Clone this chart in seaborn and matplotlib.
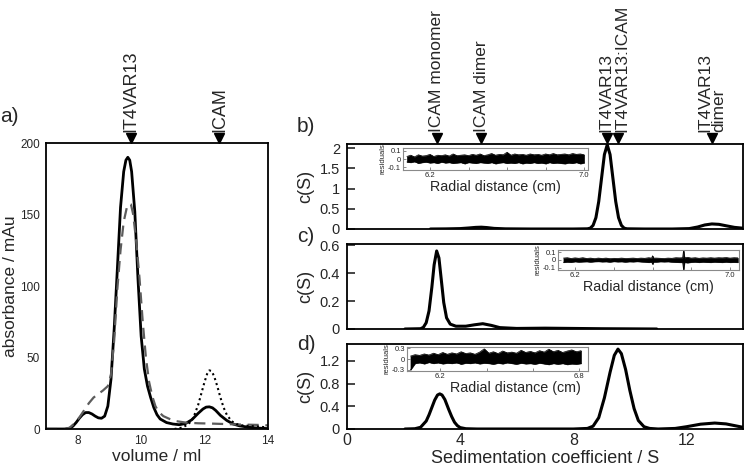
import matplotlib
matplotlib.use("Agg")
import matplotlib.pyplot as plt
from matplotlib import transforms
import pandas as pd
import seaborn as sns

sns.set_style("ticks")
plt.rcParams["font.family"] = ["Liberation Sans", "DejaVu Sans"]

# ---------------- data: panel a (size-exclusion chromatography) ----------------
sec_solid_x = [7.0, 7.6, 7.75, 7.85, 7.95, 8.05, 8.15, 8.25, 8.35, 8.45, 8.55, 8.65, 8.75, 8.85, 8.95,
               9.05, 9.15, 9.25, 9.35, 9.45, 9.52, 9.58, 9.64, 9.7, 9.8, 9.9, 10.0, 10.1, 10.2, 10.3,
               10.4, 10.5, 10.6, 10.8, 11.0, 11.2, 11.4, 11.6, 11.8, 11.95, 12.05, 12.15, 12.25, 12.35,
               12.5, 12.7, 12.9, 13.1, 13.4, 13.7, 14.0]
sec_solid_y = [0, 0, 0.5, 2, 4.5, 7.5, 10, 11.5, 11.5, 10.5, 9, 7.8, 7.5, 9, 16,
               35, 70, 112, 155, 180, 188, 190, 188, 180, 152, 105, 65, 42, 30, 22,
               15, 10, 7, 4.5, 3.5, 3, 3.8, 6.5, 11, 14, 15.3, 15.5, 14.8, 13,
               9.5, 6, 3.5, 2.2, 1.2, 0.6, 0.3]
sec_dash_x = [7.0, 7.6, 7.75, 7.9, 8.05, 8.2, 8.35, 8.5, 8.65, 8.8, 8.95, 9.05, 9.15, 9.25, 9.35,
              9.45, 9.55, 9.62, 9.68, 9.75, 9.85, 9.95, 10.05, 10.15, 10.25, 10.35, 10.45, 10.55,
              10.7, 10.9, 11.1, 11.4, 11.8, 12.2, 12.6, 13.0, 13.4, 13.8, 14.0]
sec_dash_y = [0, 0, 1, 4, 8, 13, 18, 22, 24.5, 27, 30, 38, 62, 98, 125,
              145, 155, 157.5, 157, 150, 130, 105, 75, 50, 33, 23, 16, 12,
              9, 7, 5.5, 4.5, 4, 3.8, 3.5, 3.2, 3, 2.8, 2.5]
sec_dot_x = [11.05, 11.3, 11.5, 11.65, 11.8, 11.9, 12.0, 12.08, 12.15, 12.22, 12.3, 12.4, 12.5,
             12.6, 12.7, 12.85, 13.0, 13.2, 13.5, 13.8, 14.0]
sec_dot_y = [0, 1, 3.5, 8, 17, 25, 33, 38.5, 41, 40.5, 37, 30, 22,
             15, 10, 5.5, 3.5, 2.5, 2, 1.5, 1]
sec_marks_x = [9.67, 12.47]
sec_marks_lab = ["IT4VAR13", "ICAM"]

# ---------------- data: panels b-d (c(S) distributions) ----------------
b_s = [2.95, 3.5, 4.0, 4.3, 4.55, 4.75, 4.95, 5.2, 5.6, 6.5, 8.0, 8.5, 8.6, 8.7, 8.8, 8.9, 9.0, 9.1,
       9.2, 9.3, 9.4, 9.5, 9.6, 9.7, 9.8, 9.9, 10.5, 11.5, 12.1, 12.4, 12.65, 12.9, 13.15, 13.4, 13.7, 14.0]
b_c = [0, 0.003, 0.01, 0.025, 0.04, 0.045, 0.035, 0.015, 0.004, 0, 0, 0.005, 0.02, 0.09, 0.28, 0.68, 1.26, 1.84,
       2.08, 1.84, 1.26, 0.68, 0.28, 0.09, 0.02, 0.005, 0, 0, 0.01, 0.05, 0.1, 0.125, 0.115, 0.08, 0.04, 0.02]
c_s = [2.05, 2.6, 2.7, 2.8, 2.9, 3.0, 3.08, 3.17, 3.25, 3.33, 3.42, 3.52, 3.65, 3.85, 4.2, 4.5, 4.8,
       5.1, 5.4, 6.0, 7.0, 8.0, 9.0, 10.0, 10.95]
c_c = [0, 0.002, 0.012, 0.045, 0.13, 0.3, 0.46, 0.56, 0.51, 0.36, 0.19, 0.08, 0.035, 0.02, 0.02, 0.03, 0.038,
       0.026, 0.01, 0.004, 0.006, 0.004, 0.002, 0.001, 0]
d_s = [2.05, 2.4, 2.6, 2.8, 2.9, 3.0, 3.1, 3.2, 3.28, 3.36, 3.46, 3.6, 3.7, 3.8, 3.9, 4.0, 4.2, 4.6,
       8.0, 8.5, 8.7, 8.9, 9.1, 9.3, 9.45, 9.58, 9.7, 9.85, 10.0, 10.15, 10.3, 10.5, 10.7, 11.0,
       11.6, 12.0, 12.5, 13.0, 13.4, 13.8, 14.0]
d_c = [0, 0.005, 0.03, 0.14, 0.25, 0.38, 0.51, 0.6, 0.62, 0.6, 0.52, 0.34, 0.22, 0.12, 0.06, 0.025, 0.005, 0,
       0, 0.01, 0.05, 0.2, 0.55, 1.0, 1.3, 1.41, 1.33, 1.05, 0.68, 0.36, 0.15, 0.04, 0.01, 0,
       0.01, 0.04, 0.085, 0.105, 0.09, 0.05, 0.03]
auc_marks_x = [3.17, 4.75, 9.19, 9.58, 12.9]
auc_marks_lab = ["ICAM monomer", "ICAM dimer", "IT4VAR13", "IT4VAR13:ICAM", "IT4VAR13\ndimer"]

b_yticks = [0, 0.5, 1, 1.5, 2]
b_ylabels = ["0", "0.5", "1", "1.5", "2"]
c_yticks = [0, 0.2, 0.4, 0.6]
c_ylabels = ["0", "0.2", "0.4", "0.6"]
d_yticks = [0, 0.4, 0.8, 1.2]
d_ylabels = ["0", "0.4", "0.8", "1.2"]
s_xticks = [0, 4, 8, 12]

# ---------------- data: residual envelopes (insets) ----------------
res_b_x = [6.08, 6.10, 6.12, 6.14, 6.16, 6.18, 6.20, 6.22, 6.24, 6.26,
           6.28, 6.30, 6.32, 6.34, 6.36, 6.38, 6.40, 6.42, 6.44, 6.46,
           6.48, 6.50, 6.52, 6.54, 6.56, 6.58, 6.60, 6.62, 6.64, 6.66,
           6.68, 6.70, 6.72, 6.74, 6.76, 6.78, 6.80, 6.82, 6.84, 6.86,
           6.88, 6.90, 6.92, 6.94, 6.96, 6.98, 7.00]
res_b_hi = [0.03, 0.045, 0.025, 0.05, 0.035, 0.04, 0.055, 0.03, 0.045, 0.04,
            0.05, 0.035, 0.06, 0.04, 0.045, 0.05, 0.04, 0.055, 0.045, 0.06,
            0.04, 0.05, 0.065, 0.045, 0.055, 0.05, 0.08, 0.045, 0.06, 0.05,
            0.055, 0.045, 0.06, 0.05, 0.055, 0.045, 0.06, 0.05, 0.065, 0.05,
            0.055, 0.06, 0.05, 0.065, 0.055, 0.06, 0.05]
res_b_lo = [-0.035, -0.04, -0.03, -0.05, -0.04, -0.035, -0.045, -0.04, -0.05, -0.035,
            -0.045, -0.04, -0.05, -0.045, -0.04, -0.055, -0.04, -0.045, -0.05, -0.04,
            -0.045, -0.05, -0.04, -0.055, -0.045, -0.04, -0.05, -0.045, -0.05, -0.04,
            -0.055, -0.045, -0.05, -0.04, -0.05, -0.045, -0.055, -0.04, -0.05, -0.045,
            -0.05, -0.055, -0.045, -0.05, -0.04, -0.055, -0.045]
res_c_x = [6.14, 6.16, 6.18, 6.20, 6.22, 6.24, 6.26, 6.28, 6.30, 6.32,
           6.34, 6.36, 6.38, 6.40, 6.42, 6.44, 6.46, 6.48, 6.50, 6.52,
           6.54, 6.56, 6.58, 6.595, 6.60, 6.605, 6.62, 6.64, 6.66, 6.68, 6.70, 6.72,
           6.74, 6.755, 6.76, 6.765, 6.78, 6.80, 6.82, 6.84, 6.86, 6.88, 6.90, 6.92,
           6.94, 6.96, 6.98, 7.00, 7.02, 7.04]
res_c_hi = [0.025, 0.03, 0.02, 0.028, 0.022, 0.03, 0.02, 0.025, 0.018, 0.025,
            0.02, 0.025, 0.018, 0.022, 0.02, 0.025, 0.02, 0.022, 0.025, 0.02,
            0.025, 0.022, 0.03, 0.025, 0.055, 0.025, 0.025, 0.022, 0.02, 0.025, 0.022, 0.03,
            0.028, 0.03, 0.13, 0.03, 0.035, 0.025, 0.03, 0.022, 0.028, 0.025, 0.03, 0.025,
            0.03, 0.028, 0.032, 0.025, 0.03, 0.028]
res_c_lo = [-0.03, -0.025, -0.028, -0.02, -0.025, -0.022, -0.02, -0.025, -0.02, -0.018,
            -0.022, -0.02, -0.025, -0.018, -0.022, -0.02, -0.025, -0.02, -0.022, -0.018,
            -0.022, -0.025, -0.03, -0.025, -0.055, -0.025, -0.025, -0.02, -0.022, -0.02, -0.025, -0.028,
            -0.03, -0.03, -0.13, -0.03, -0.035, -0.028, -0.025, -0.03, -0.025, -0.028, -0.03, -0.025,
            -0.028, -0.03, -0.025, -0.03, -0.028, -0.03]
res_d_x = [6.07, 6.09, 6.11, 6.13, 6.15, 6.17, 6.19, 6.21, 6.23, 6.25,
           6.27, 6.29, 6.31, 6.33, 6.35, 6.37, 6.39, 6.41, 6.43, 6.45,
           6.47, 6.49, 6.51, 6.53, 6.55, 6.57, 6.59, 6.61, 6.63, 6.65,
           6.67, 6.69, 6.71, 6.73, 6.75, 6.77, 6.79, 6.81]
res_d_hi = [0.08, 0.12, 0.1, 0.14, 0.11, 0.16, 0.12, 0.18, 0.13, 0.17,
            0.14, 0.2, 0.15, 0.17, 0.13, 0.19, 0.28, 0.16, 0.2, 0.15,
            0.22, 0.17, 0.19, 0.16, 0.24, 0.18, 0.21, 0.17, 0.23, 0.19,
            0.27, 0.2, 0.24, 0.18, 0.22, 0.25, 0.2, 0.23]
res_d_lo = [-0.3, -0.12, -0.1, -0.13, -0.09, -0.12, -0.1, -0.13, -0.11, -0.12,
            -0.1, -0.14, -0.11, -0.12, -0.1, -0.13, -0.11, -0.12, -0.14, -0.11,
            -0.13, -0.1, -0.12, -0.14, -0.11, -0.13, -0.12, -0.14, -0.11, -0.13,
            -0.15, -0.12, -0.14, -0.12, -0.15, -0.13, -0.14, -0.12]

# ---------------- figure ----------------
W, H = 745, 467
fig = plt.figure(figsize=(W / 100, H / 100), dpi=100)
fig.patch.set_facecolor("white")


def add_ax(l, t, r, b):
    return fig.add_axes([l / W, 1 - b / H, (r - l) / W, (b - t) / H])


def style_box(ax, lw=1.3, color="black"):
    for sp in ax.spines.values():
        sp.set_visible(True)
        sp.set_linewidth(lw)
        sp.set_color(color)


def top_marks(ax, xs, labels, dxs, fs=12.5):
    base = transforms.blended_transform_factory(ax.transData, ax.transAxes)
    tri = transforms.offset_copy(base, fig=fig, y=5.5, units="dots")
    ax.plot(xs, [1.0] * len(xs), transform=tri, marker="v", ms=7, color="black",
            ls="none", clip_on=False)
    for x, lab, dx in zip(xs, labels, dxs):
        tr = transforms.offset_copy(base, fig=fig, x=dx, y=11.5, units="dots")
        ax.text(x, 1.0, lab, transform=tr, rotation=90, ha="center", va="bottom",
                fontsize=fs, multialignment="left", linespacing=0.95)


# ---- panel a ----
ax_a = add_ax(46, 143, 268, 429)
sns.lineplot(data=pd.DataFrame({"v": sec_solid_x, "a": sec_solid_y}), x="v", y="a", ax=ax_a,
             color="black", lw=2.0, sort=False, estimator=None)
sns.lineplot(data=pd.DataFrame({"v": sec_dash_x, "a": sec_dash_y}), x="v", y="a", ax=ax_a,
             color="#5c5c5c", lw=1.6, sort=False, estimator=None, linestyle=(0, (5, 3)))
sns.lineplot(data=pd.DataFrame({"v": sec_dot_x, "a": sec_dot_y}), x="v", y="a", ax=ax_a,
             color="black", lw=1.5, sort=False, estimator=None, linestyle=(0, (1, 1.5)))
ax_a.set_xlim(7, 14)
ax_a.set_ylim(0, 200)
ax_a.set_xticks([8, 10, 12, 14])
ax_a.set_yticks([0, 50, 100, 150, 200])
ax_a.tick_params(axis="both", length=0, labelsize=8.5, pad=4.5)
ax_a.set_xlabel("volume / ml", fontsize=12.5, labelpad=1)
ax_a.set_ylabel("absorbance / mAu", fontsize=12.5, labelpad=1.5)
style_box(ax_a)
top_marks(ax_a, sec_marks_x, sec_marks_lab, [0, 0], fs=13)

# ---- panels b, c, d ----
ax_b = add_ax(347, 144, 743, 229)
ax_c = add_ax(347, 244, 743, 329)
ax_d = add_ax(347, 344, 743, 429)
for ax, s, c, ylim, yt, yl in [(ax_b, b_s, b_c, 2.1, b_yticks, b_ylabels),
                               (ax_c, c_s, c_c, 0.61, c_yticks, c_ylabels),
                               (ax_d, d_s, d_c, 1.5, d_yticks, d_ylabels)]:
    sns.lineplot(data=pd.DataFrame({"s": s, "c": c}), x="s", y="c", ax=ax, color="black",
                 lw=2.2, sort=False, estimator=None)
    ax.set_xlim(0, 14)
    ax.set_ylim(0, ylim)
    ax.set_yticks(yt)
    ax.set_yticklabels(yl)
    ax.set_xticks(s_xticks)
    ax.tick_params(axis="y", direction="in", length=6, width=1.2, labelsize=10.5, pad=5)
    ax.tick_params(axis="x", length=0, labelsize=11.5, pad=3)
    ax.set_ylabel("c(S)", fontsize=13, labelpad=4)
    ax.set_xlabel("")
    style_box(ax)
ax_b.set_xticklabels([])
ax_c.set_xticklabels([])
ax_d.set_xticklabels([str(t) for t in s_xticks])
ax_d.set_xlabel("Sedimentation coefficient / S", fontsize=13, labelpad=1)
top_marks(ax_b, auc_marks_x, auc_marks_lab, [0, 0, -1, 4, 0])

# panel letters
for lab, x, y in [("a)", 0, 117), ("b)", 297, 126), ("c)", 297, 236), ("d)", 297, 344)]:
    fig.text(x / W, 1 - y / H, lab, fontsize=15, ha="left", va="center")

# ---- insets with residuals ----
insets = [
    (add_ax(403, 148, 588, 170), res_b_x, res_b_hi, res_b_lo, (6.06, 7.02), 0.13,
     [6.2, 6.4, 6.6, 6.8, 7.0], ["6.2", "", "", "", "7.0"], [-0.1, 0, 0.1], ["-0.1", "0", "0.1"], None),
    (add_ax(558, 250, 739, 270), res_c_x, res_c_hi, res_c_lo, (6.112, 7.046), 0.13,
     [6.2, 6.4, 6.6, 6.8, 7.0], ["6.2", "", "", "", "7.0"], [-0.1, 0, 0.1], ["-0.1", "0", "0.1"], None),
    (add_ax(407, 347, 588, 371), res_d_x, res_d_hi, res_d_lo, (6.055, 6.84), 0.33,
     [6.2, 6.4, 6.6, 6.8], ["6.2", "", "", "6.8"], [-0.3, 0, 0.3], ["-0.3", "0", "0.3"], (0.6, -0.42)),
]
for ax, rx, hi, lo, xl, yl, xt, xtl, yt, ytl, lc in insets:
    ax.set_facecolor("white")
    ax.fill_between(rx, lo, hi, color="black", lw=0.4)
    sns.lineplot(x=rx, y=hi, ax=ax, color="black", lw=0.5, sort=False, estimator=None)
    sns.lineplot(x=rx, y=lo, ax=ax, color="black", lw=0.5, sort=False, estimator=None)
    ax.set_xlim(*xl)
    ax.set_ylim(-yl, yl)
    ax.set_xticks(xt)
    ax.set_xticklabels(xtl)
    ax.set_yticks(yt)
    ax.set_yticklabels(ytl)
    ax.tick_params(axis="both", direction="in", length=2, width=0.6, color="#777777",
                   labelsize=5.5, pad=1.5)
    ax.set_ylabel("residuals", fontsize=5.5, labelpad=1)
    ax.set_xlabel("Radial distance (cm)", fontsize=10.3, labelpad=1)
    if lc is not None:
        ax.xaxis.set_label_coords(*lc)
    style_box(ax, lw=0.8, color="#8a8a8a")

fig.savefig("out.png", dpi=100, facecolor="white")
